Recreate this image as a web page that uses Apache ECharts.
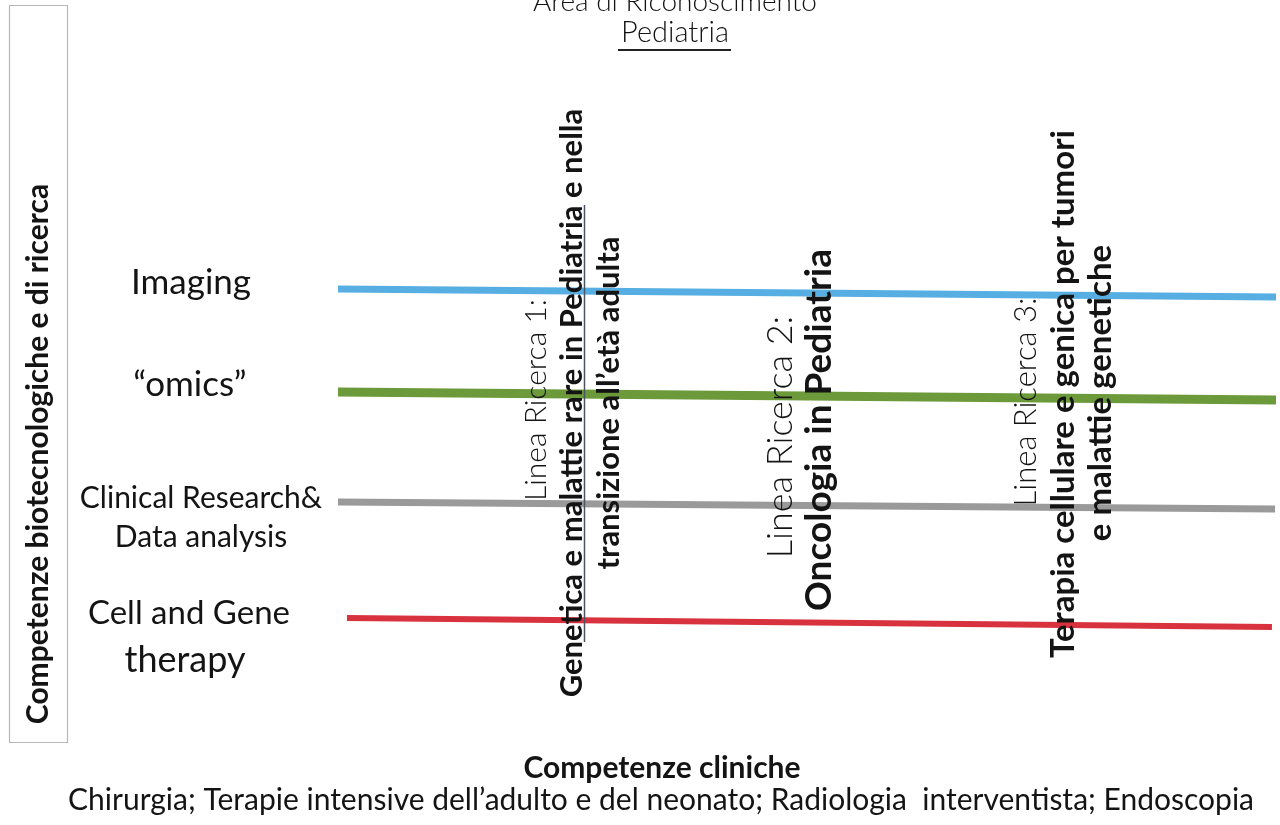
<!DOCTYPE html>
<html>
<head>
<meta charset="utf-8">
<script src="https://cdn.jsdelivr.net/npm/echarts@6/dist/echarts.min.js"></script>
<style>
html,body{margin:0;padding:0;background:#fff;}
#c{width:1280px;height:825px;}
</style>
</head>
<body>
<div id="c"></div>
<script>
// Horizontal bands (competenze biotecnologiche) — positions
const bandNames = ['Imaging', '“omics”', 'Clinical Research& Data analysis', 'Cell and Gene therapy'];
const bandStartX = [0, 0, 0, 0.96];
const bandEndX = [100, 100, 99.9, 99.57];
const bandStartY = [9.75, 35.5, 63, 92];
const bandEndY = [11.75, 37.5, 64.75, 94.25];
const bandColors = ['#57aee2', '#6c9a3a', '#9a9a9a', '#d8323e'];
const bandWidths = [7, 9, 7, 6];

// Research lines (vertical text columns)
const researchHeads = ['Linea Ricerca 1:', 'Linea Ricerca 2:', 'Linea Ricerca 3:'];
const researchTitles = [
  ['Genetica e malattie rare in Pediatria e nella', 'transizione all\u2019età adulta'],
  ['Oncologia in Pediatria'],
  ['Terapia cellulare e genica per tumori', 'e malattie genetiche']
];

const FONT = 'Lato, "Open Sans", sans-serif';
const series = bandNames.map((n, i) => ({
  name: n,
  type: 'line',
  data: [[bandStartX[i], bandStartY[i]], [bandEndX[i], bandEndY[i]]],
  symbol: 'none',
  lineStyle: { color: bandColors[i], width: bandWidths[i], cap: 'butt' },
  z: 2,
  silent: true
}));

function vtext(x, y, text, size, weight) {
  return {
    type: 'text', x: x, y: y, rotation: Math.PI / 2, z: 10,
    style: { text: text, font: weight + ' ' + size + 'px ' + FONT, fill: '#141414',
      textAlign: 'center', textVerticalAlign: 'middle' }
  };
}
function htext(x, y, text, size, weight, align) {
  return {
    type: 'text', x: x, y: y, z: 10,
    style: { text: text, font: weight + ' ' + size + 'px ' + FONT, fill: '#141414',
      textAlign: align || 'center', textVerticalAlign: 'middle' }
  };
}

const graphics = [
  { type: 'rect', shape: { x: 9.5, y: 5.5, width: 58, height: 737 },
    style: { fill: 'none', stroke: '#b8b8b8', lineWidth: 1.2 }, z: 5 },
  vtext(38, 454, 'Competenze biotecnologiche e di ricerca', 30, 'bold'),
  htext(675, 2, 'Area di Riconoscimento', 28, '300'),
  htext(675, 33, 'Pediatria', 29, '300'),
  { type: 'line', shape: { x1: 618, y1: 50, x2: 731, y2: 50 }, style: { stroke: '#222', lineWidth: 2 }, z: 10 },
  htext(191, 283, bandNames[0], 35, 'normal'),
  htext(190, 385, bandNames[1], 35, 'normal'),
  htext(201, 498, 'Clinical Research&', 30, 'normal'),
  htext(201, 537, 'Data analysis', 30, 'normal'),
  htext(189, 613, 'Cell and Gene', 33, 'normal'),
  htext(185, 660, 'therapy', 36, 'normal'),
  vtext(536, 400, researchHeads[0], 30, '300'),
  vtext(572, 403, researchTitles[0][0], 31, 'bold'),
  { type: 'line', shape: { x1: 584.5, y1: 205, x2: 584.5, y2: 642 }, style: { stroke: '#4a5563', lineWidth: 1.5 }, z: 11 },
  vtext(609, 403, researchTitles[0][1], 31, 'bold'),
  vtext(780, 437, researchHeads[1], 36, '300'),
  vtext(819, 430, researchTitles[1][0], 37, 'bold'),
  vtext(1026, 402, researchHeads[2], 31, '300'),
  vtext(1063, 394, researchTitles[2][0], 33, 'bold'),
  vtext(1100, 393, researchTitles[2][1], 33, 'bold'),
  htext(662, 768, 'Competenze cliniche', 30, 'bold'),
  htext(661, 800, 'Chirurgia; Terapie intensive dell\u2019adulto e del neonato; Radiologia  interventista; Endoscopia', 30, 'normal')
];

const chart = echarts.init(document.getElementById('c'), null, { renderer: 'canvas' });
chart.setOption({
  backgroundColor: '#ffffff',
  animation: false,
  grid: { left: 338, right: 4, top: 250, bottom: 175 },
  xAxis: { type: 'value', min: 0, max: 100, show: false },
  yAxis: { type: 'value', min: 0, max: 100, inverse: true, show: false },
  series: series,
  graphic: graphics
});
</script>
</body>
</html>
